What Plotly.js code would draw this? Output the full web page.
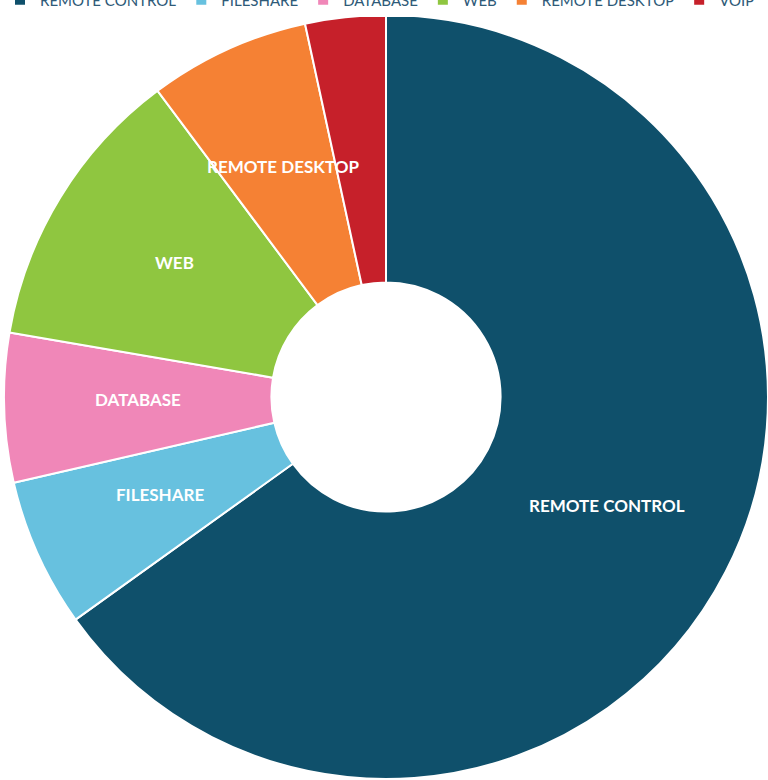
<!DOCTYPE html>
<html>
<head>
<meta charset="utf-8">
<script src="https://cdn.plot.ly/plotly-3.0.1.min.js"></script>
<style>
html,body{margin:0;padding:0;background:#fff;overflow:hidden;}
#chart{position:absolute;left:0;top:-20px;width:768px;height:800px;}
</style>
</head>
<body>
<div id="chart"></div>
<script>
const labels = ["REMOTE CONTROL", "FILESHARE", "DATABASE", "WEB", "REMOTE DESKTOP", "VOIP"];
const values = [65.1, 6.3, 6.3, 12.1, 6.8, 3.4];
const colors = ["#0f506b", "#67c1df", "#f087b8", "#8fc640", "#f58134", "#c6202a"];
const sliceText = ["REMOTE CONTROL", "FILESHARE", "DATABASE", "WEB", "REMOTE DESKTOP", ""];

const W = 768, H = 800;
const HOLE = 0.3;
const domainX = [4 / W, 1];
const domainY = [1 / H, 765 / H];

const trace = {
  type: "pie",
  labels: labels,
  values: values,
  textinfo: "none",
  hole: HOLE,
  sort: false,
  direction: "clockwise",
  rotation: 0,
  marker: {colors: colors, line: {color: "#ffffff", width: 2}},
  domain: {x: domainX, y: domainY},
  hoverinfo: "label+percent"
};

// Slice labels at each slice's mid-angle and mid-radius, derived from the values
const total = values.reduce((a, b) => a + b, 0);
const cxp = (domainX[0] + domainX[1]) / 2;
const cyp = (domainY[0] + domainY[1]) / 2;
const Rpx = Math.min(W * (domainX[1] - domainX[0]), H * (domainY[1] - domainY[0])) / 2;
const rMid = Rpx * (1 + HOLE) / 2;
const annotations = [];
let cum = 0;
values.forEach((v, i) => {
  const mid = (cum + v / 2) / total * 2 * Math.PI; // clockwise from 12 o'clock
  cum += v;
  if (!sliceText[i]) return;
  annotations.push({
    xref: "paper", yref: "paper",
    x: cxp + rMid * Math.sin(mid) / W,
    y: cyp + rMid * Math.cos(mid) / H,
    xanchor: "center", yanchor: "middle",
    yshift: 5,
    text: sliceText[i],
    showarrow: false,
    font: {family: "Lato, 'Open Sans', sans-serif", size: 17, color: "#ffffff", weight: 700}
  });
});

const layout = {
  width: W,
  height: H,
  margin: {l: 0, r: 0, t: 0, b: 0},
  paper_bgcolor: "#ffffff",
  showlegend: true,
  annotations: annotations,
  legend: {
    orientation: "h",
    xref: "paper",
    yref: "paper",
    x: 0.0,
    xanchor: "left",
    y: 1 - 20 / H,
    yanchor: "middle",
    font: {family: "Lato, 'Open Sans', sans-serif", size: 15, color: "#2e5a78"},
    itemwidth: 30,
    traceorder: "normal"
  }
};

Plotly.newPlot("chart", [trace], layout, {displayModeBar: false, staticPlot: true});
</script>
</body>
</html>
